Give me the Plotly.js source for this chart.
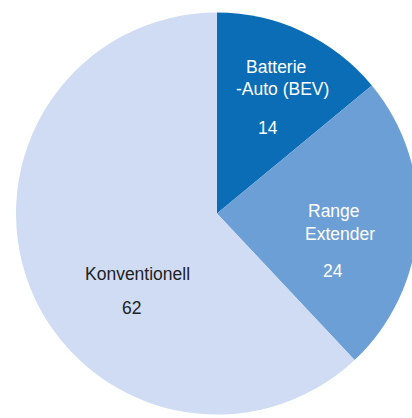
<!DOCTYPE html>
<html>
<head>
<meta charset="utf-8">
<script src="https://cdn.plot.ly/plotly-3.0.1.min.js"></script>
<style>
  html, body { margin: 0; padding: 0; overflow: hidden; background: #fff; }
  #chart { width: 420px; height: 418px; }
</style>
</head>
<body>
<div id="chart"></div>
<script>
const categories = ['Batterie-Auto (BEV)', 'Range Extender', 'Konventionell'];
const shares = [14, 24, 62];
const sliceColors = ['#0a6db5', '#6c9fd5', '#cfdcf3'];

// label lines as they are broken in the reference
const labelLines = [
  ['Batterie', '-Auto (BEV)', '14'],
  ['Range', 'Extender', '24'],
  ['Konventionell', '62'],
];

// pixel layout of the figure (plot area is wider than the window, the right edge is cut)
const W = 420, H = 418;
const M = { l: 16, r: 2, t: 12, b: 3 };
const px = (x) => (x - M.l) / (W - M.l - M.r);
const py = (y) => 1 - (y - M.t) / (H - M.t - M.b);

// where each line of text sits (pixel centres)
const labelPos = [
  [[276, 67], [282, 89], [268, 128]],
  [[334, 211], [340, 234], [333, 271]],
  [[137, 274], [131, 308]],
];
const textColors = ['#ffffff', '#ffffff', '#222222'];

const annotations = [];
labelLines.forEach((lines, i) => {
  lines.forEach((t, j) => {
    const [x, y] = labelPos[i][j];
    annotations.push({
      text: t, xref: 'paper', yref: 'paper',
      x: px(x), y: py(y), xanchor: 'center', yanchor: 'middle',
      showarrow: false,
      font: { family: 'Liberation Sans, Arial, sans-serif', size: 17.5, color: textColors[i] },
    });
  });
});

const trace = {
  type: 'pie',
  labels: categories,
  values: shares,
  sort: false,
  direction: 'clockwise',
  rotation: 0,
  marker: { colors: sliceColors, line: { width: 0 } },
  textinfo: 'none',
  hoverinfo: 'skip',
  showlegend: false,
};

const layout = {
  width: W, height: H,
  margin: M,
  paper_bgcolor: '#ffffff',
  plot_bgcolor: '#ffffff',
  showlegend: false,
  annotations,
};

Plotly.newPlot('chart', [trace], layout, { displayModeBar: false, staticPlot: true });
</script>
</body>
</html>
